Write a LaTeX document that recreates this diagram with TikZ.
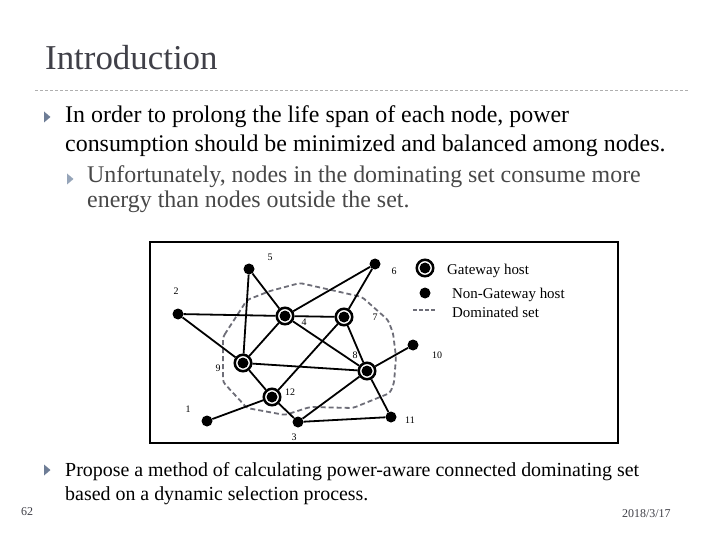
\documentclass[tikz,border=0pt]{standalone}
\usepackage{fontspec}
\setmainfont{Liberation Serif}
\definecolor{titlec}{RGB}{64,64,72}
\definecolor{subc}{RGB}{72,72,72}
\definecolor{bul}{RGB}{110,125,150}
\definecolor{bulsub}{RGB}{150,165,185}
\definecolor{sepc}{RGB}{175,175,175}
\definecolor{domc}{RGB}{110,110,120}
\begin{document}
\begin{tikzpicture}[x=1bp,y=-1bp,
  host/.style={circle,fill=black,minimum size=11bp,inner sep=0pt},
  gw/.style={circle,draw=black,line width=2.5bp,fill=white,minimum size=16.5bp,inner sep=0pt,
    path picture={\fill[black] (path picture bounding box.center) circle (5.5bp);}},
  edge/.style={line width=1.8bp},
  lbl/.style={font=\fontsize{10}{12}\selectfont,inner sep=0pt},
  txt/.style={anchor=base west,inner sep=0pt},
  maintxt/.style={txt,font=\fontsize{24}{28}\selectfont},
  subtxt/.style={txt,text=subc,font=\fontsize{24}{28}\selectfont},
  bottxt/.style={txt,font=\fontsize{20}{24}\selectfont},
  legtxt/.style={txt,font=\fontsize{15}{18}\selectfont},
  smalltxt/.style={txt,text=titlec,font=\fontsize{12}{14}\selectfont},
  dom/.style={draw=domc,line width=1.8bp,dash pattern=on 5bp off 3bp}]
\fill[white] (0,0) rectangle (720,540);
\useasboundingbox (0,0) rectangle (720,540);

% title
\node[txt,text=titlec,font=\fontsize{35}{40}\selectfont] (title) at (45,70) {Introduction};
\draw[sepc,line width=0.8bp,dash pattern=on 3bp off 2bp] (35,90) -- (688,90);

% bullets
\fill[bul] (44,111.5) -- (50.5,117) -- (44,122.5) -- cycle;
\node[maintxt] (l1) at (65,123) {In order to prolong the life span of each node, power};
\node[maintxt] (l2) at (65,152) {consumption should be minimized and balanced among nodes.};
\fill[bulsub] (67,173.5) -- (73.5,179) -- (67,184.5) -- cycle;
\node[subtxt] (s1) at (87,183) {Unfortunately, nodes in the dominating set consume more};
\node[subtxt] (s2) at (87,208) {energy than nodes outside the set.};

% frame
\draw[line width=2.5bp] (150,242) rectangle (618,443);

% dominated set
\draw[dom,rounded corners=3bp] (223,337) -- (247,300) -- (270,291) -- (300,283) -- (340,292) -- (362,297)
  -- (388,320) -- (393,333) -- (396,357) -- (394,383) -- (390,393) -- (353,408) -- (310,407)
  -- (285,415) -- (247,408) -- (223,382) -- cycle;

% nodes
\node[host] (n1) at (207,421) {};
\node[host] (n2) at (178,314) {};
\node[host] (n3) at (298,422) {};
\node[gw] (n4) at (285,316) {};
\node[host] (n5) at (249,269) {};
\node[host] (n6) at (375,264) {};
\node[gw] (n7) at (344,317) {};
\node[gw] (n8) at (367,371) {};
\node[gw] (n9) at (243,363) {};
\node[host] (n10) at (413,345) {};
\node[host] (n11) at (391,417) {};
\node[gw] (n12) at (272,397) {};

% edges
\draw[edge] (n5) -- (n4);
\draw[edge] (n5) -- (n9);
\draw[edge] (n6) -- (n4);
\draw[edge] (n6) -- (n7);
\draw[edge] (n2) -- (n4);
\draw[edge] (n2) -- (n9);
\draw[edge] (n4) -- (n7);
\draw[edge] (n4) -- (n9);
\draw[edge] (n4) -- (n8);
\draw[edge] (n7) -- (n12);
\draw[edge] (n7) -- (n8);
\draw[edge] (n9) -- (n8);
\draw[edge] (n9) -- (n12);
\draw[edge] (n12) -- (n1);
\draw[edge] (n12) -- (n3);
\draw[edge] (n8) -- (n10);
\draw[edge] (n8) -- (n3);
\draw[edge] (n8) -- (n11);
\draw[edge] (n3) -- (n11);

% labels
\node[lbl] (t1) at (188,409) {1};
\node[lbl] (t2) at (176,291) {2};
\node[lbl] (t3) at (294,437) {3};
\node[lbl] (t4) at (304,322) {4};
\node[lbl] (t5) at (270,257) {5};
\node[lbl] (t6) at (394,271) {6};
\node[lbl] (t7) at (375,317) {7};
\node[lbl] (t8) at (355,355) {8};
\node[lbl] (t9) at (218,368) {9};
\node[lbl] (t10) at (437,355) {10};
\node[lbl] (t11) at (410,420) {11};
\node[lbl] (t12) at (290,392) {12};

% legend
\node[gw] (lg1) at (425,268) {};
\node[legtxt] (lt1) at (447,275) {Gateway host};
\node[host] (lg2) at (425,293) {};
\node[legtxt] (lt2) at (452,298) {Non-Gateway host};
\coordinate (lda) at (413,310);
\coordinate (ldb) at (437,310);
\draw[dom,line width=1.5bp,dash pattern=on 4bp off 2bp] (lda) -- (ldb);
\node[legtxt] (lt3) at (452,317) {Dominated set};

% bottom bullet
\fill[bul] (44,464.5) -- (50.5,470) -- (44,475.5) -- cycle;
\node[bottxt] (b1) at (65,476) {Propose a method of calculating power-aware connected dominating set};
\node[bottxt] (b2) at (65,500) {based on a dynamic selection process.};

% footer
\node[smalltxt] (pg) at (21,515) {62};
\node[smalltxt] (dt) at (622,517) {2018/3/17};
\end{tikzpicture}
\end{document}
